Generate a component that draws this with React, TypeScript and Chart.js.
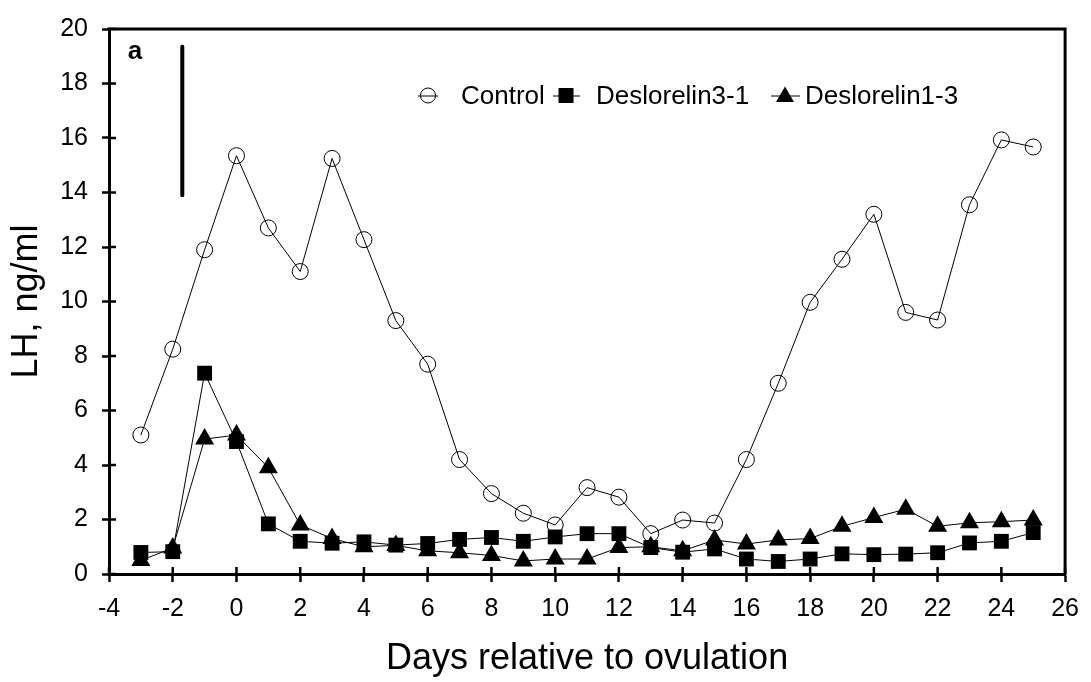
import React, { useEffect, useRef } from 'react';
import { Chart, registerables } from 'chart.js';

Chart.register(...registerables);

const days = [-3, -2, -1, 0, 1, 2, 3, 4, 5, 6, 7, 8, 9, 10, 11, 12, 13, 14, 15, 16, 17, 18, 19, 20, 21, 22, 23, 24, 25];
const control = [5.1, 8.25, 11.9, 15.35, 12.7, 11.1, 15.25, 12.27, 9.3, 7.7, 4.2, 2.95, 2.23, 1.8, 3.17, 2.82, 1.48, 1.98, 1.87, 4.2, 7.0, 9.97, 11.55, 13.2, 9.6, 9.32, 13.55, 15.93, 15.67];
const deslorelin31 = [0.79, 0.82, 7.37, 4.86, 1.84, 1.2, 1.13, 1.18, 1.06, 1.12, 1.27, 1.34, 1.2, 1.36, 1.48, 1.48, 0.97, 0.8, 0.92, 0.55, 0.46, 0.55, 0.74, 0.71, 0.73, 0.78, 1.14, 1.2, 1.52];
const deslorelin13 = [0.5, 0.95, 4.95, 5.1, 3.9, 1.8, 1.3, 1.0, 1.05, 0.85, 0.78, 0.68, 0.48, 0.55, 0.55, 0.97, 1.0, 0.85, 1.25, 1.1, 1.25, 1.3, 1.75, 2.07, 2.38, 1.75, 1.88, 1.92, 1.98];
const seriesLabels = ['Control', 'Deslorelin3-1', 'Deslorelin1-3'];
const errorBarX = [-1.7, -1.7];
const errorBarY = [19.35, 13.9];
const panelLabel = 'a';
const xTitle = 'Days relative to ovulation';
const yTitle = 'LH, ng/ml';
const xMin = -4, xMax = 26, xStep = 2;
const yMin = 0, yMax = 20, yStep = 2;

const FONT = "'Liberation Sans', Arial, Helvetica, sans-serif";

function drawMarker(ctx: CanvasRenderingContext2D, kind: string, x: number, y: number) {
  ctx.save();
  ctx.strokeStyle = '#000';
  ctx.fillStyle = '#000';
  ctx.lineWidth = 1;
  ctx.beginPath();
  if (kind === 'circle') {
    ctx.arc(x, y, 7.5, 0, Math.PI * 2);
    ctx.stroke();
  } else if (kind === 'rect') {
    ctx.rect(x - 7.5, y - 7.5, 15, 15);
    ctx.fill();
  } else {
    ctx.moveTo(x, y - 9);
    ctx.lineTo(x + 9, y + 6.5);
    ctx.lineTo(x - 9, y + 6.5);
    ctx.closePath();
    ctx.fill();
  }
  ctx.restore();
}

const framePlugin = {
  id: 'framePlugin',
  afterDraw(chart: any) {
    const { ctx, chartArea, scales } = chart;
    const { left, right, top, bottom } = chartArea;
    ctx.save();
    ctx.strokeStyle = '#000';
    ctx.lineWidth = 3;
    ctx.beginPath();
    ctx.moveTo(left - 1.5, top);
    ctx.lineTo(right, top);
    ctx.lineTo(right, bottom + 1.5);
    ctx.stroke();
    // inner tick parts
    ctx.lineWidth = 2.5;
    ctx.beginPath();
    for (let v = yMin; v <= yMax; v += yStep) {
      const y = scales.y.getPixelForValue(v);
      ctx.moveTo(left, y);
      ctx.lineTo(left + 7, y);
    }
    for (let v = xMin; v <= xMax; v += xStep) {
      const x = scales.x.getPixelForValue(v);
      ctx.moveTo(x, bottom);
      ctx.lineTo(x, bottom - 7);
    }
    ctx.stroke();

    // panel label
    ctx.fillStyle = '#000';
    ctx.font = `bold 26px ${FONT}`;
    ctx.textAlign = 'center';
    ctx.textBaseline = 'middle';
    ctx.fillText(panelLabel, left + 26, top + 22.5);

    // legend
    const items = [
      { label: seriesLabels[0], kind: 'circle', mx: 428, lx0: 418, lx1: 438, tx: 461 },
      { label: seriesLabels[1], kind: 'rect', mx: 566, lx0: 553, lx1: 580, tx: 596 },
      { label: seriesLabels[2], kind: 'triangle', mx: 785, lx0: 771, lx1: 800, tx: 805 },
    ];
    const ly = 95.5;
    ctx.font = `26px ${FONT}`;
    ctx.textAlign = 'left';
    ctx.textBaseline = 'middle';
    for (const it of items) {
      ctx.lineWidth = 1;
      ctx.beginPath();
      ctx.moveTo(it.lx0, ly + 0.5);
      ctx.lineTo(it.lx1, ly + 0.5);
      ctx.stroke();
      drawMarker(ctx, it.kind, it.mx, ly);
      ctx.fillText(it.label, it.tx, ly + 1);
    }
    ctx.restore();
  },
};

export default function App() {
  const canvasRef = useRef<HTMLCanvasElement | null>(null);

  useEffect(() => {
    const canvas = canvasRef.current;
    if (!canvas) return;
    const toPts = (vals: number[]) => days.map((d, i) => ({ x: d, y: vals[i] }));
    const chart = new Chart(canvas, {
      type: 'line',
      data: {
        datasets: [
          {
            label: seriesLabels[0],
            data: toPts(control),
            borderColor: '#000',
            borderWidth: 1,
            pointStyle: 'circle',
            pointRadius: 8,
            pointBorderWidth: 1,
            pointBorderColor: '#000',
            pointBackgroundColor: 'rgba(0,0,0,0)',
            tension: 0,
          },
          {
            label: seriesLabels[1],
            data: toPts(deslorelin31),
            borderColor: '#000',
            borderWidth: 1,
            pointStyle: 'rect',
            pointRadius: 10.5,
            pointBorderWidth: 0,
            pointBackgroundColor: '#000',
            pointBorderColor: '#000',
            tension: 0,
          },
          {
            label: seriesLabels[2],
            data: toPts(deslorelin13),
            borderColor: '#000',
            borderWidth: 1,
            pointStyle: 'triangle',
            pointRadius: 11,
            pointBorderWidth: 0,
            pointBackgroundColor: '#000',
            pointBorderColor: '#000',
            tension: 0,
          },
          {
            label: 'error',
            data: errorBarX.map((x, i) => ({ x, y: errorBarY[i] })),
            borderColor: '#000',
            borderWidth: 4,
            pointRadius: 0,
            borderCapStyle: 'round',
          },
        ],
      },
      options: {
        responsive: false,
        animation: false,
        devicePixelRatio: 1,
        layout: { padding: { left: 0, top: 18, right: 18, bottom: 0 } },
        plugins: {
          legend: { display: false },
          tooltip: { enabled: false },
          title: { display: false },
        },
        scales: {
          x: {
            type: 'linear',
            min: xMin,
            max: xMax,
            ticks: {
              stepSize: xStep,
              color: '#000',
              font: { family: FONT, size: 25, lineHeight: 1.2 },
              padding: 12,
              maxRotation: 0,
            },
            grid: {
              drawOnChartArea: false,
              drawTicks: true,
              tickLength: 8,
              tickWidth: 2.5,
              tickColor: '#000',
            },
            border: { display: true, color: '#000', width: 3 },
            title: {
              display: true,
              text: xTitle,
              color: '#000',
              font: { family: FONT, size: 36, lineHeight: 1.2 },
              padding: { top: 0, bottom: 1 },
            },
            afterFit: (scale: any) => {
              scale.height = 108;
            },
          },
          y: {
            type: 'linear',
            min: yMin,
            max: yMax,
            ticks: {
              stepSize: yStep,
              color: '#000',
              font: { family: FONT, size: 25, lineHeight: 1.2 },
              padding: 14,
            },
            grid: {
              drawOnChartArea: false,
              drawTicks: true,
              tickLength: 7,
              tickWidth: 2.5,
              tickColor: '#000',
            },
            border: { display: true, color: '#000', width: 3 },
            title: {
              display: true,
              text: yTitle,
              color: '#000',
              font: { family: FONT, size: 36, lineHeight: 1.2 },
              padding: { top: 5, bottom: 0 },
            },
            afterFit: (scale: any) => {
              scale.width = 109;
            },
          },
        },
      } as any,
      plugins: [framePlugin],
    });
    return () => chart.destroy();
  }, []);

  return (
    <div style={{ position: 'absolute', left: 0, top: 0, width: 1091, height: 682, background: '#fff' }}>
      <canvas ref={canvasRef} width={1091} height={682} style={{ display: 'block' }} />
    </div>
  );
}
